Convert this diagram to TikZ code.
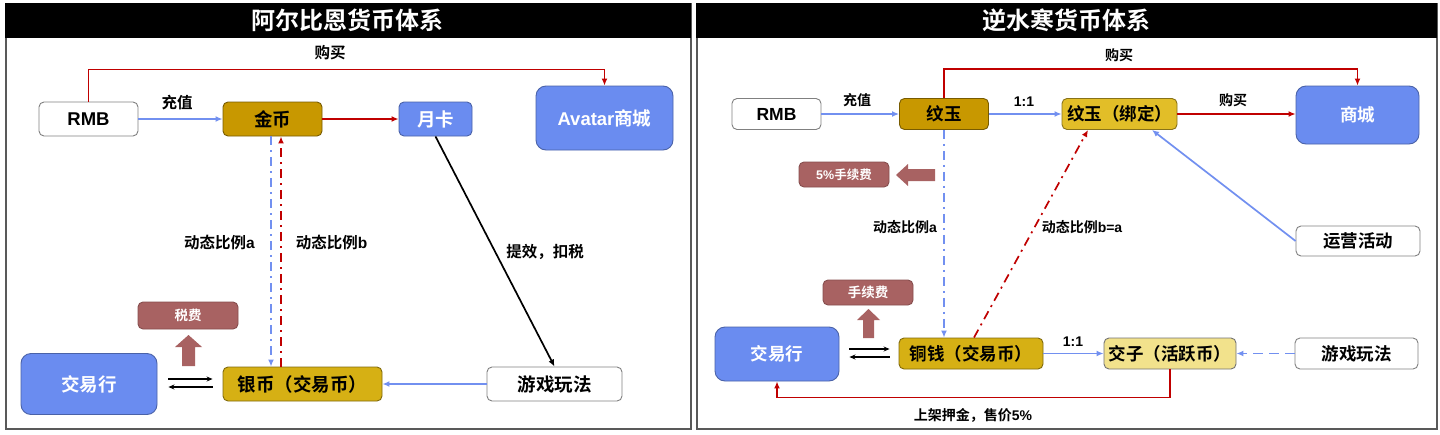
\documentclass[tikz,border=0pt]{standalone}
\usepackage{fontspec}
\setmainfont{Noto Sans CJK SC}[BoldFont={Noto Sans CJK SC Bold}]
\newfontfamily\lat{Liberation Sans}
\usetikzlibrary{arrows.meta}
\definecolor{goldA}{RGB}{200,152,0}
\definecolor{goldB}{RGB}{214,176,20}
\definecolor{goldC}{RGB}{226,190,40}
\definecolor{paleY}{RGB}{242,226,140}
\definecolor{boxblue}{RGB}{106,140,240}
\definecolor{feecol}{RGB}{168,98,98}
\definecolor{redln}{RGB}{192,0,0}
\definecolor{blueln}{RGB}{114,144,240}
\definecolor{framec}{RGB}{89,89,89}
\begin{document}
\begin{tikzpicture}[x=1pt,y=-1pt,
  box/.style={draw=black!50, line width=0.9pt, rounded corners=5pt, inner sep=0pt,
    font=\bfseries\fontsize{17.5}{17.5}\selectfont},
  lft/.style={font=\bfseries\fontsize{18.5}{18.5}\selectfont},
  wbox/.style={box, fill=white, text=black},
  gboxA/.style={box, fill=goldA, draw=goldA!60!black, text=black},
  gboxB/.style={box, fill=goldB, draw=goldB!60!black, text=black},
  gboxC/.style={box, fill=goldC, draw=goldC!60!black, text=black},
  pbox/.style={box, fill=paleY, draw=black!55, text=black},
  bbox/.style={box, fill=boxblue, draw=boxblue!70!black, text=white},
  bigbox/.style={bbox, rounded corners=10pt},
  feebox/.style={box, fill=feecol, draw=feecol!80!black, text=white, font=\bfseries\fontsize{13.5}{13.5}\selectfont},
  lbl/.style={inner sep=0pt, text=black, font=\bfseries\fontsize{14}{14}\selectfont},
  lblL/.style={lbl, font=\bfseries\fontsize{15.5}{15.5}\selectfont},
  title/.style={fill=black, draw=black, inner sep=0pt, text=white, anchor=north west,
    font=\bfseries\fontsize{24}{24}\selectfont},
  panel/.style={draw=framec, line width=2pt, inner sep=0pt, anchor=north west},
  tip/.style={-{Latex[length=7pt,width=6pt]}},
  redc/.style={draw=redln, line width=1.7pt, tip},
  bluec/.style={draw=blueln, line width=1.7pt, tip},
  blackc/.style={draw=black, line width=1.7pt, tip},
  bluedd/.style={bluec, dash pattern=on 9pt off 5pt on 2pt off 5pt},
  reddd/.style={redc, dash pattern=on 9pt off 5pt on 2pt off 5pt},
  bluedash/.style={bluec, dash pattern=on 10pt off 6pt},
  swap/.style={draw=black, line width=1.5pt, -{Stealth[length=6pt,width=5pt]}}
]
\fill[white] (0,0) rectangle (1440,434);
\useasboundingbox (0,0) rectangle (1440,434);

% ---------------- left panel ----------------
\node[panel, minimum width=685pt, minimum height=425pt] (panelL) at (5,3) {};
\node[title, minimum width=685pt, minimum height=34pt] (titleL) at (5,3) {阿尔比恩货币体系};

\node[wbox, lft, minimum width=99pt, minimum height=34pt] (rmbL) at (88.5,119) {\lat\bfseries RMB};
\node[gboxA, lft, minimum width=99pt, minimum height=34pt] (jinbi) at (272.5,119) {金币};
\node[bbox, lft, minimum width=73pt, minimum height=34pt] (yueka) at (435.5,119) {月卡};
\node[bigbox, lft, minimum width=137pt, minimum height=64pt] (avatar) at (604.5,118) {{\lat\bfseries Avatar}商城};
\node[gboxB, lft, minimum width=159pt, minimum height=34pt] (yinbi) at (302.5,384) {银币（交易币）};
\node[wbox, lft, minimum width=135pt, minimum height=34pt] (youxiL) at (554.5,384) {游戏玩法};
\node[bigbox, lft, minimum width=136pt, minimum height=61pt] (jiaoyiL) at (89,384) {交易行};
\node[feebox, minimum width=100pt, minimum height=27pt] (shuifei) at (188,315.5) {税费};

\node[lblL] (lbBuyL) at (330,53) {购买};
\node[lblL] (lbChargeL) at (177,103) {充值};
\node[lblL] (lbRatioA) at (219.5,243) {动态比例{\lat\bfseries a}};
\node[lblL] (lbRatioB) at (331.5,243) {动态比例{\lat\bfseries b}};
\node[lblL] (lbTax) at (545,252) {提效，扣税};

\draw[redc] (rmbL.north) -- ++(0,-32) -| (avatar.north);
\draw[bluec] (rmbL.east) -- (jinbi.west);
\draw[redc] (jinbi.east) -- (yueka.west);
\draw[bluedd] ([xshift=-1.5pt]jinbi.south) -- ([xshift=-1.5pt]jinbi.south |- yinbi.north);
\draw[reddd] ([xshift=8.5pt]jinbi.south |- yinbi.north) -- ([xshift=8.5pt]jinbi.south);
\draw[blackc] (yueka.south) -- (youxiL.north);
\draw[bluec] (youxiL.west) -- (yinbi.east);
\draw[swap] ([xshift=11pt,yshift=5pt]jiaoyiL.east) -- ([xshift=-10pt,yshift=5pt]yinbi.west);
\draw[swap] ([xshift=-10pt,yshift=-3pt]yinbi.west) -- ([xshift=11pt,yshift=-3pt]jiaoyiL.east);
\fill[feecol] (182,366) -- (182,347) -- (175,347) -- (188.5,335) -- (202,347) -- (195,347) -- (195,366) -- cycle;

% ---------------- right panel ----------------
\node[panel, minimum width=740pt, minimum height=425pt] (panelR) at (696,3) {};
\node[title, minimum width=740pt, minimum height=34pt] (titleR) at (696,3) {逆水寒货币体系};

\node[wbox, minimum width=89pt, minimum height=31pt] (rmbR) at (776.5,114) {\lat\bfseries RMB};
\node[gboxA, minimum width=89pt, minimum height=31pt] (wenyu) at (944,114) {纹玉};
\node[gboxC, minimum width=115pt, minimum height=31pt] (wenyuB) at (1119.5,114) {纹玉（绑定）};
\node[bigbox, minimum width=123pt, minimum height=58pt] (shangcheng) at (1357.5,115) {商城};
\node[feebox, font=\bfseries\fontsize{12.5}{12.5}\selectfont, minimum width=90pt, minimum height=25pt] (xufei5) at (844,174.5) {{\lat\bfseries 5\%}手续费};
\node[wbox, minimum width=124pt, minimum height=30pt] (yunying) at (1358,241) {运营活动};
\node[feebox, minimum width=90pt, minimum height=25pt] (xufei) at (868,292.5) {手续费};
\node[bigbox, minimum width=124pt, minimum height=54pt] (jiaoyiR) at (777,354) {交易行};
\node[gboxB, minimum width=144pt, minimum height=31pt] (tongqian) at (971,353.5) {铜钱（交易币）};
\node[pbox, minimum width=132pt, minimum height=31pt] (jiaozi) at (1170,353.5) {交子（活跃币）};
\node[wbox, minimum width=123pt, minimum height=31pt] (youxiR) at (1356.5,353.5) {游戏玩法};

\node[lbl] (lbBuyR1) at (1119,55) {购买};
\node[lbl] (lbChargeR) at (857,100) {充值};
\node[lbl] (lbOneA) at (1024,102) {\lat\bfseries 1:1};
\node[lbl] (lbBuyR2) at (1233,100) {购买};
\node[lbl] (lbRatioAR) at (905,227) {动态比例{\lat\bfseries a}};
\node[lbl] (lbRatioBR) at (1082,227) {动态比例{\lat\bfseries b=a}};
\node[lbl] (lbOneB) at (1073,342) {\lat\bfseries 1:1};
\node[lbl] (lbDeposit) at (973,415) {上架押金，售价{\lat\bfseries 5\%}};

\draw[redc] (wenyu.north) -- ++(0,-29) -| (shangcheng.north);
\draw[bluec] (rmbR.east) -- (wenyu.west);
\draw[bluec] (wenyu.east) -- (wenyuB.west);
\draw[redc] (wenyuB.east) -- (wenyuB.east -| shangcheng.west);
\draw[bluedd] (wenyu.south) -- (wenyu.south |- tongqian.north);
\draw[reddd] ([xshift=3pt]tongqian.north) -- ([xshift=-31.5pt]wenyuB.south);
\draw[bluec] (yunying.west) -- ([xshift=32.5pt]wenyuB.south);
\draw[bluec] (tongqian.east) -- (tongqian.east -| jiaozi.west);
\draw[bluedash] (youxiR.west) -- (youxiR.west -| jiaozi.east);
\draw[redc] (jiaozi.south) -- ++(0,28) -| (jiaoyiR.south);
\draw[swap] ([xshift=10pt,yshift=5pt]jiaoyiR.east) -- ([xshift=-9pt,yshift=5pt]jiaoyiR.east -| tongqian.west);
\draw[swap] ([xshift=-9pt,yshift=-3pt]jiaoyiR.east -| tongqian.west) -- ([xshift=10pt,yshift=-3pt]jiaoyiR.east);
\fill[feecol] (935,169) -- (908,169) -- (908,164) -- (896,175) -- (908,186) -- (908,181) -- (935,181) -- cycle;
\fill[feecol] (863,338) -- (863,320) -- (857,320) -- (868.5,309) -- (880,320) -- (874,320) -- (874,338) -- cycle;
\end{tikzpicture}
\end{document}
